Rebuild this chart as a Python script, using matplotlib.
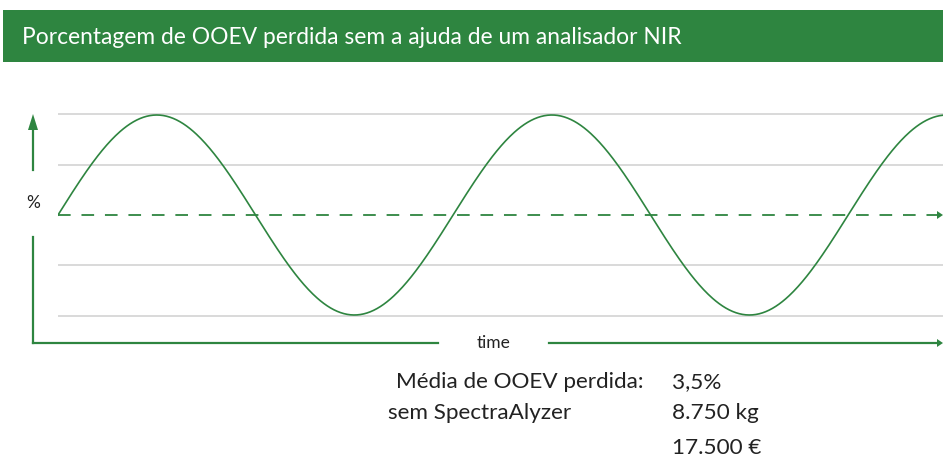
import numpy as np
import matplotlib
matplotlib.use("Agg")
import matplotlib.pyplot as plt
from matplotlib.patches import Rectangle, Polygon

plt.rcParams["font.family"] = ["Lato", "DejaVu Sans"]

# illustrative wave: mean loss, swing, cycle length and span (in cycles)
mean_loss = 3.5
swing = 1.0
period = 1.0
span = 2.24
grid_offsets = [-1.01, -0.5, 0.5, 1.01]

title = "Porcentagem de OOEV perdida sem a ajuda de um analisador NIR"
labels = ["Média de OOEV perdida:", "sem SpectraAlyzer"]
values = ["3,5%", "8.750 kg", "17.500 €"]

green = "#2e8540"
W, H = 943, 461
fig = plt.figure(figsize=(W / 100, H / 100), dpi=100)

# main plotting area (pixel box 58..943 x 100..330)
ax = fig.add_axes([58 / W, (H - 330) / H, (W - 58) / W, 230 / H])
t = np.linspace(0, span, 800)
ax.plot(t, mean_loss + swing * np.sin(2 * np.pi * t / period), color=green, lw=1.2)
for g in grid_offsets:
    ax.axhline(mean_loss + g, color="#d9d9d9", lw=1.4, zorder=0)
ax.axhline(mean_loss, color=green, lw=1.3, ls=(0, (7, 6)))
ax.set_xlim(0, span)
ax.set_ylim(mean_loss - 1.15, mean_loss + 1.15)
ax.axis("off")

# overlay in pixel coordinates for frame, arrows and text
ov = fig.add_axes([0, 0, 1, 1], zorder=-1)
ov.set_xlim(0, W); ov.set_ylim(H, 0); ov.axis("off")
ov2 = fig.add_axes([0, 0, 1, 1], zorder=5)
ov2.set_xlim(0, W); ov2.set_ylim(H, 0); ov2.axis("off")

ov.add_patch(Rectangle((3, 10), W - 3, 52, color=green, lw=0))
ov.text(22, 37, title, color="white", fontsize=16.4, va="center", ha="left")

# y arrow
ov2.plot([33, 33], [128, 170], color=green, lw=1.6)
ov2.add_patch(Polygon([[28, 130], [38, 130], [33, 114]], closed=True, color=green, lw=0))
ov2.text(33, 203, "%", fontsize=12.5, ha="center", va="center", color="#222222")
ov2.plot([33, 33], [237, 343], color=green, lw=1.6)
# x arrow
ov2.plot([33, 438], [343, 343], color=green, lw=1.6)
ov2.plot([549, 938], [343, 343], color=green, lw=1.6)
ov2.add_patch(Polygon([[937, 339], [937, 347], [943, 343]], closed=True, color=green, lw=0))
ov2.add_patch(Polygon([[937, 211], [937, 219], [943, 215]], closed=True, color=green, lw=0))
ov2.text(494, 343, "time", fontsize=12.5, ha="center", va="center", color="#222222")

# summary
ov2.text(643, 382, labels[0], fontsize=16.2, ha="right", va="center", color="#222222")
ov2.text(388, 413, labels[1], fontsize=16.2, ha="left", va="center", color="#222222")
for v, y in zip(values, [382, 413, 448]):
    ov2.text(672, y, v, fontsize=16.2, ha="left", va="center", color="#222222")

fig.savefig("out.png", dpi=100)
